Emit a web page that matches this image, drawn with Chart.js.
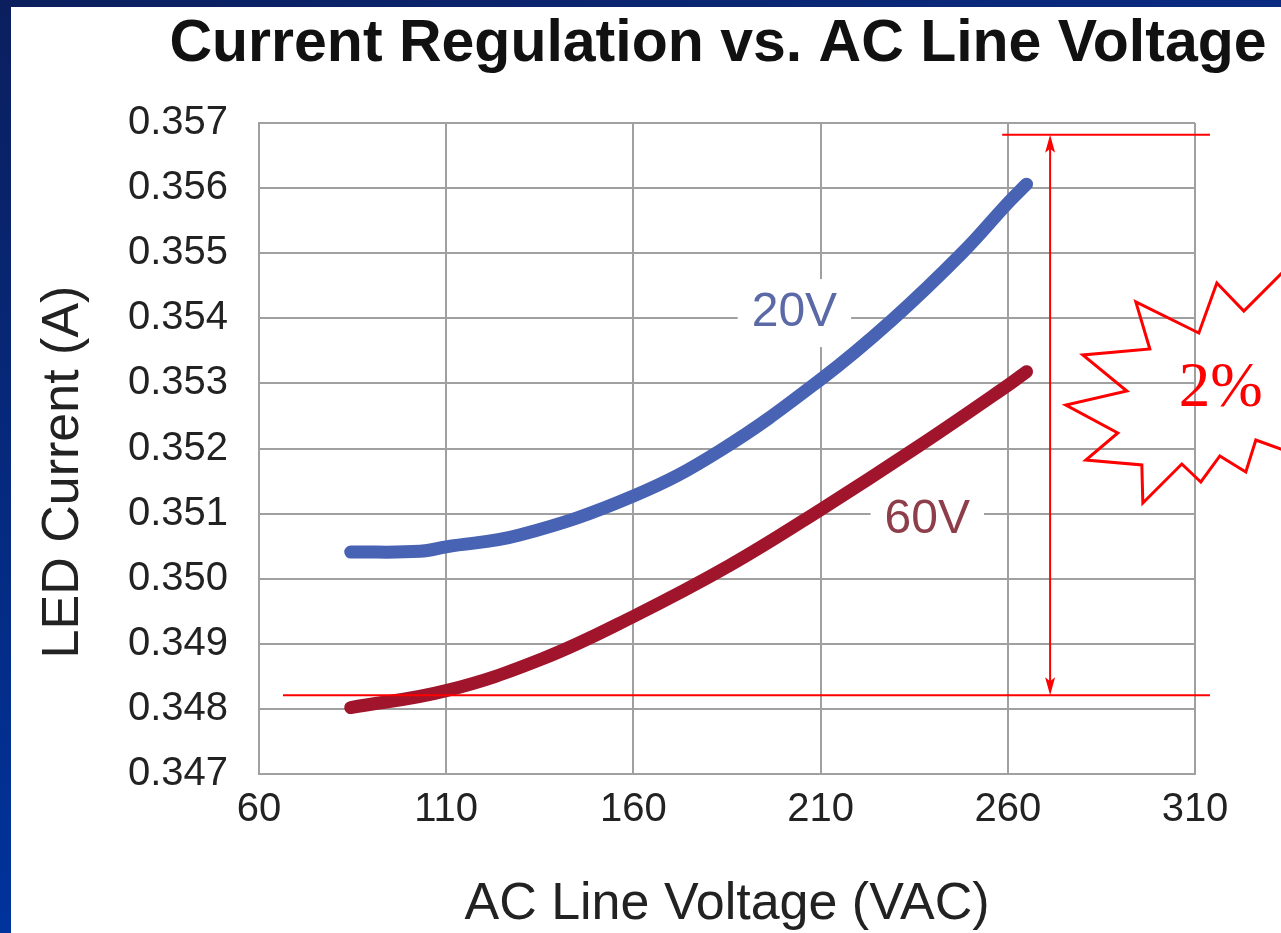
<!DOCTYPE html>
<html>
<head>
<meta charset="utf-8">
<script src="https://cdn.jsdelivr.net/npm/chart.js@4.4.1/dist/chart.umd.min.js"></script>
<style>
  html, body { margin: 0; padding: 0; background: #fff; }
  #wrap { width: 1281px; height: 933px; }
</style>
</head>
<body>
<div id="wrap"><canvas id="myChart" width="1281" height="933"></canvas></div>
<script>
// data
const voltsBlue = [84.5, 103, 110, 129.6, 160, 183.2, 210, 229.2, 248.1, 260, 265];
const ampsBlue  = [0.35041, 0.35042, 0.35049, 0.35067, 0.35127, 0.35197, 0.35306, 0.35398, 0.35502, 0.35577, 0.35606];
const voltsRed  = [84.5, 110, 135.7, 160, 185.6, 210, 236.3, 260, 265];
const ampsRed   = [0.34802, 0.34828, 0.34877, 0.34942, 0.35020, 0.35106, 0.35204, 0.35297, 0.35318];
const seriesNames = ["20V", "60V"];
const xTicks = [60, 110, 160, 210, 260, 310];
const yTicks = [0.347, 0.348, 0.349, 0.350, 0.351, 0.352, 0.353, 0.354, 0.355, 0.356, 0.357];

const titleText = "Current Regulation vs. AC Line Voltage";
const yTitle = "LED Current (A)";
const xTitle = "AC Line Voltage (VAC)";

// where the series names sit (data units)
const nameSpots = [[203.0, 0.35408], [238.5, 0.35091]];
const nameColors = ["#5b6aa6", "#8e3d4a"];

// red 2% markup (data units)
const spanTop = 0.35682, spanBottom = 0.34821, arrowAt = 271.3;
const starAt = [316.9, 0.352991];
const starPts = [[-4,-101],[23,-73],[68,-118],[88,-4],[68,68],[35,56],[25,88],[-1,72],[-20,98],[-39,80],[-78,119],[-79,81],[-135,76],[-103,49],[-155,21],[-94,7],[-138,-29],[-71,-35],[-85,-82],[-22,-51]];

const sans = '"Liberation Sans", Arial, Helvetica, sans-serif';

function pairs(xs, ys) {
  var out = [];
  for (var i = 0; i < xs.length; i++) out.push({x: xs[i], y: ys[i]});
  return out;
}

const deco = {
  id: 'deco',
  beforeDraw(chart) {
    const ctx = chart.ctx;
    ctx.save();
    ctx.fillStyle = '#fff';
    ctx.fillRect(0, 0, chart.width, chart.height);
    var g = ctx.createLinearGradient(0, 0, 0, chart.height);
    g.addColorStop(0, '#0b1f5e');
    g.addColorStop(1, '#00339c');
    ctx.fillStyle = g;
    ctx.fillRect(0, 0, 11, chart.height);
    var g2 = ctx.createLinearGradient(0, 0, chart.width, 0);
    g2.addColorStop(0, '#0b1f5e');
    g2.addColorStop(1, '#0a2b82');
    ctx.fillStyle = g2;
    ctx.fillRect(0, 0, chart.width, 7);

    ctx.fillStyle = '#111';
    ctx.font = 'bold 59px ' + sans;
    ctx.textAlign = 'center';
    ctx.textBaseline = 'middle';
    ctx.fillText(titleText, 718, 45);

    ctx.translate(64, 472);
    ctx.rotate(-Math.PI / 2);
    ctx.fillStyle = '#222';
    ctx.font = '52px ' + sans;
    ctx.fillText(yTitle, 0, 0);
    ctx.restore();
  },
  beforeDatasetsDraw(chart) {
    const ctx = chart.ctx, xs = chart.scales.x, ys = chart.scales.y;
    ctx.save();
    ctx.font = '48px ' + sans;
    ctx.textAlign = 'center';
    ctx.textBaseline = 'middle';
    for (var i = 0; i < seriesNames.length; i++) {
      var px = xs.getPixelForValue(nameSpots[i][0]);
      var py = ys.getPixelForValue(nameSpots[i][1]);
      var w = ctx.measureText(seriesNames[i]).width + 28;
      ctx.fillStyle = '#fff';
      ctx.fillRect(px - w / 2, py - 34, w, 68);
      ctx.fillStyle = nameColors[i];
      ctx.fillText(seriesNames[i], px, py);
    }
    ctx.restore();
  },
  afterDraw(chart) {
    const ctx = chart.ctx, xs = chart.scales.x, ys = chart.scales.y;
    var yT = ys.getPixelForValue(spanTop), yB = ys.getPixelForValue(spanBottom);
    var ax = xs.getPixelForValue(arrowAt);
    ctx.save();
    ctx.strokeStyle = '#ff0000';
    ctx.fillStyle = '#ff0000';
    ctx.lineWidth = 2;
    ctx.beginPath();
    ctx.moveTo(xs.getPixelForValue(258.5), yT);
    ctx.lineTo(xs.getPixelForValue(314), yT);
    ctx.moveTo(xs.getPixelForValue(66.4), yB);
    ctx.lineTo(xs.getPixelForValue(314), yB);
    ctx.moveTo(ax, yT + 4);
    ctx.lineTo(ax, yB - 4);
    ctx.stroke();
    // arrow heads
    ctx.beginPath();
    ctx.moveTo(ax, yT); ctx.lineTo(ax - 5, yT + 18); ctx.lineTo(ax, yT + 14); ctx.lineTo(ax + 5, yT + 18); ctx.closePath();
    ctx.moveTo(ax, yB); ctx.lineTo(ax - 5, yB - 18); ctx.lineTo(ax, yB - 14); ctx.lineTo(ax + 5, yB - 18); ctx.closePath();
    ctx.fill();

    // star burst
    var cx = xs.getPixelForValue(starAt[0]), cy = ys.getPixelForValue(starAt[1]);
    ctx.lineWidth = 3;
    ctx.lineJoin = 'miter';
    ctx.beginPath();
    starPts.forEach(function (p, i) {
      if (i == 0) ctx.moveTo(cx + p[0], cy + p[1]);
      else ctx.lineTo(cx + p[0], cy + p[1]);
    });
    ctx.closePath();
    ctx.stroke();

    ctx.font = '63px "Liberation Serif", "Times New Roman", serif';
    ctx.textAlign = 'center';
    ctx.textBaseline = 'alphabetic';
    ctx.fillText('2%', cx, cy + 22);
    ctx.restore();
  }
};

var chart = new Chart(document.getElementById('myChart').getContext('2d'), {
  type: 'line',
  data: {
    datasets: [
      {
        label: seriesNames[0],
        data: pairs(voltsBlue, ampsBlue),
        borderColor: '#4863b3',
        borderWidth: 13,
        borderCapStyle: 'round',
        borderJoinStyle: 'round',
        pointRadius: 0,
        tension: 0.4,
        fill: false
      },
      {
        label: seriesNames[1],
        data: pairs(voltsRed, ampsRed),
        borderColor: '#a0152b',
        borderWidth: 13,
        borderCapStyle: 'round',
        borderJoinStyle: 'round',
        pointRadius: 0,
        tension: 0.4,
        fill: false
      }
    ]
  },
  options: {
    responsive: false,
    animation: false,
    devicePixelRatio: 1,
    layout: { padding: { top: 123, right: 86, bottom: 0, left: 11 } },
    plugins: {
      legend: { display: false },
      tooltip: { enabled: false },
      title: { display: false }
    },
    scales: {
      x: {
        type: 'linear',
        min: xTicks[0],
        max: xTicks[xTicks.length - 1],
        afterBuildTicks: function (s) { s.ticks = xTicks.map(function (v) { return {value: v}; }); },
        afterFit: function (s) { s.height = 159; },
        grid: { color: '#a0a0a0', lineWidth: 2, drawTicks: false },
        border: { color: '#a0a0a0', width: 2 },
        ticks: {
          padding: 12,
          maxRotation: 0,
          autoSkip: false,
          color: '#222',
          font: { family: sans, size: 40 }
        },
        title: {
          display: true,
          text: xTitle,
          color: '#222',
          font: { family: sans, size: 52, lineHeight: 1 },
          padding: { top: 0, bottom: 2 }
        }
      },
      y: {
        type: 'linear',
        min: yTicks[0],
        max: yTicks[yTicks.length - 1],
        afterBuildTicks: function (s) { s.ticks = yTicks.map(function (v) { return {value: v}; }); },
        afterFit: function (s) { s.width = 248; },
        grid: { color: '#a0a0a0', lineWidth: 2, drawTicks: false },
        border: { color: '#a0a0a0', width: 2 },
        ticks: {
          padding: 31,
          autoSkip: false,
          color: '#222',
          font: { family: sans, size: 40 },
          callback: function (v) { return Number(v).toFixed(3); }
        }
      }
    }
  },
  plugins: [deco]
});
</script>
</body>
</html>
